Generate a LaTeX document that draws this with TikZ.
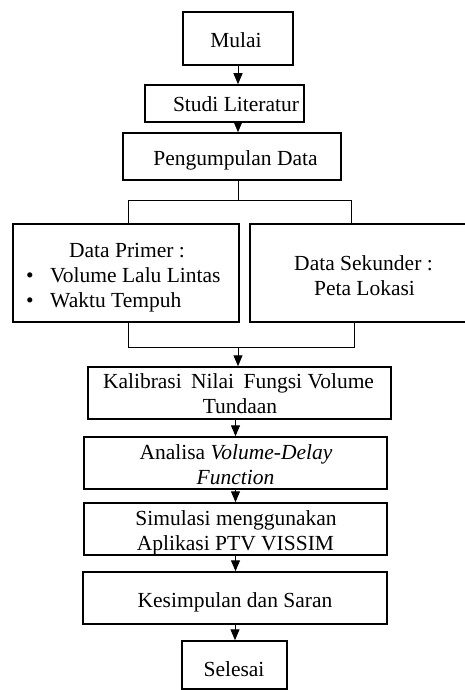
\documentclass[tikz,border=0pt]{standalone}
\usepackage{fontspec}
\setmainfont{Liberation Serif}
\usetikzlibrary{arrows.meta}
\begin{document}
\begin{tikzpicture}[x=1pt,y=-1pt,
  box/.style={draw, line width=1.5pt, inner sep=0pt},
  txt/.style={inner sep=0pt, anchor=base, font=\fontsize{21.5}{26}\selectfont},
  conn/.style={line width=1pt},
  arr/.style={line width=1pt, -{Triangle[width=9pt,length=11pt]}}
]
\fill[white] (0,0) rectangle (465,690);
\useasboundingbox (0,0) rectangle (465,690);

% boxes
\node[box, minimum width=110pt, minimum height=53pt] (mulai) at (238,38.5) {};
\node[box, minimum width=159pt, minimum height=37pt] (studi) at (224.5,103.5) {};
\node[box, minimum width=218pt, minimum height=47pt] (peng) at (232,156.5) {};
\node[box, minimum width=226pt, minimum height=98pt] (prim) at (126,273) {};
\node[box, minimum width=217pt, minimum height=98pt] (sek) at (358.5,273) {};
\node[box, minimum width=303pt, minimum height=52pt] (kal) at (239.5,393) {};
\node[box, minimum width=303pt, minimum height=52pt] (ana) at (235.5,463) {};
\node[box, minimum width=303pt, minimum height=52pt] (sim) at (235.5,529) {};
\node[box, minimum width=304pt, minimum height=52pt] (kes) at (235,598) {};
\node[box, minimum width=105pt, minimum height=48pt] (sel) at (234.5,665) {};

% texts
\node[txt] (mulaiT) at (236,48) {Mulai};
\node[txt] (studiT) at (236,112) {Studi Literatur};
\node[txt] (pengT) at (235.5,165.5) {Pengumpulan Data};
\node[txt] (primT) at (127,257) {Data Primer :};
\node[txt] (b1) at (30,282) {\textbullet};
\node[txt, anchor=base west] (primA) at (50,282) {Volume Lalu Lintas};
\node[txt] (b2) at (30,307) {\textbullet};
\node[txt, anchor=base west] (primB) at (50,307) {Waktu Tempuh};
\node[txt] (sekT) at (363.5,270) {Data Sekunder :};
\node[txt] (sekB) at (364.5,295.5) {Peta Lokasi};
\node[txt] (kalT) at (238.5,388) {Kalibrasi\hspace{4pt} Nilai\hspace{4pt} Fungsi Volume};
\node[txt] (kalB) at (240,413) {Tundaan};
\node[txt] (anaT) at (236,459) {Analisa \textit{Volume-Delay}};
\node[txt] (anaB) at (235.5,484) {\textit{Function}};
\node[txt] (simT) at (236,525) {Simulasi menggunakan};
\node[txt] (simB) at (235.5,550.5) {Aplikasi PTV VISSIM};
\node[txt] (kesT) at (235,607) {Kesimpulan dan Saran};
\node[txt] (selT) at (234,676) {Selesai};

% connectors
\draw[arr] (mulai.south) -- (mulai.south |- studi.north);
\draw[arr] (mulai.south |- studi.south) -- (mulai.south |- peng.north);
\coordinate (spl) at (238,200);
\coordinate (sl) at (128,200);
\coordinate (sr) at (351,200);
\draw[conn] (mulai.south |- peng.south) -- (spl);
\draw[conn] (sl |- prim.north) -- (sl) -- (sr) -- (sr |- sek.north);
\coordinate (mc) at (238,347);
\coordinate (ml) at (128,347);
\coordinate (mr) at (354,347);
\draw[conn] (ml |- prim.south) -- (ml) -- (mr) -- (mr |- sek.south);
\draw[arr] (mc) -- (mc |- kal.north);
\draw[arr] (kal.south -| ana.north) -- (ana.north);
\draw[arr] (ana.south) -- (sim.north);
\draw[arr] (sim.south) -- (sim.south |- kes.north);
\draw[arr] (kes.south) -- (kes.south |- sel.north);
\end{tikzpicture}
\end{document}
